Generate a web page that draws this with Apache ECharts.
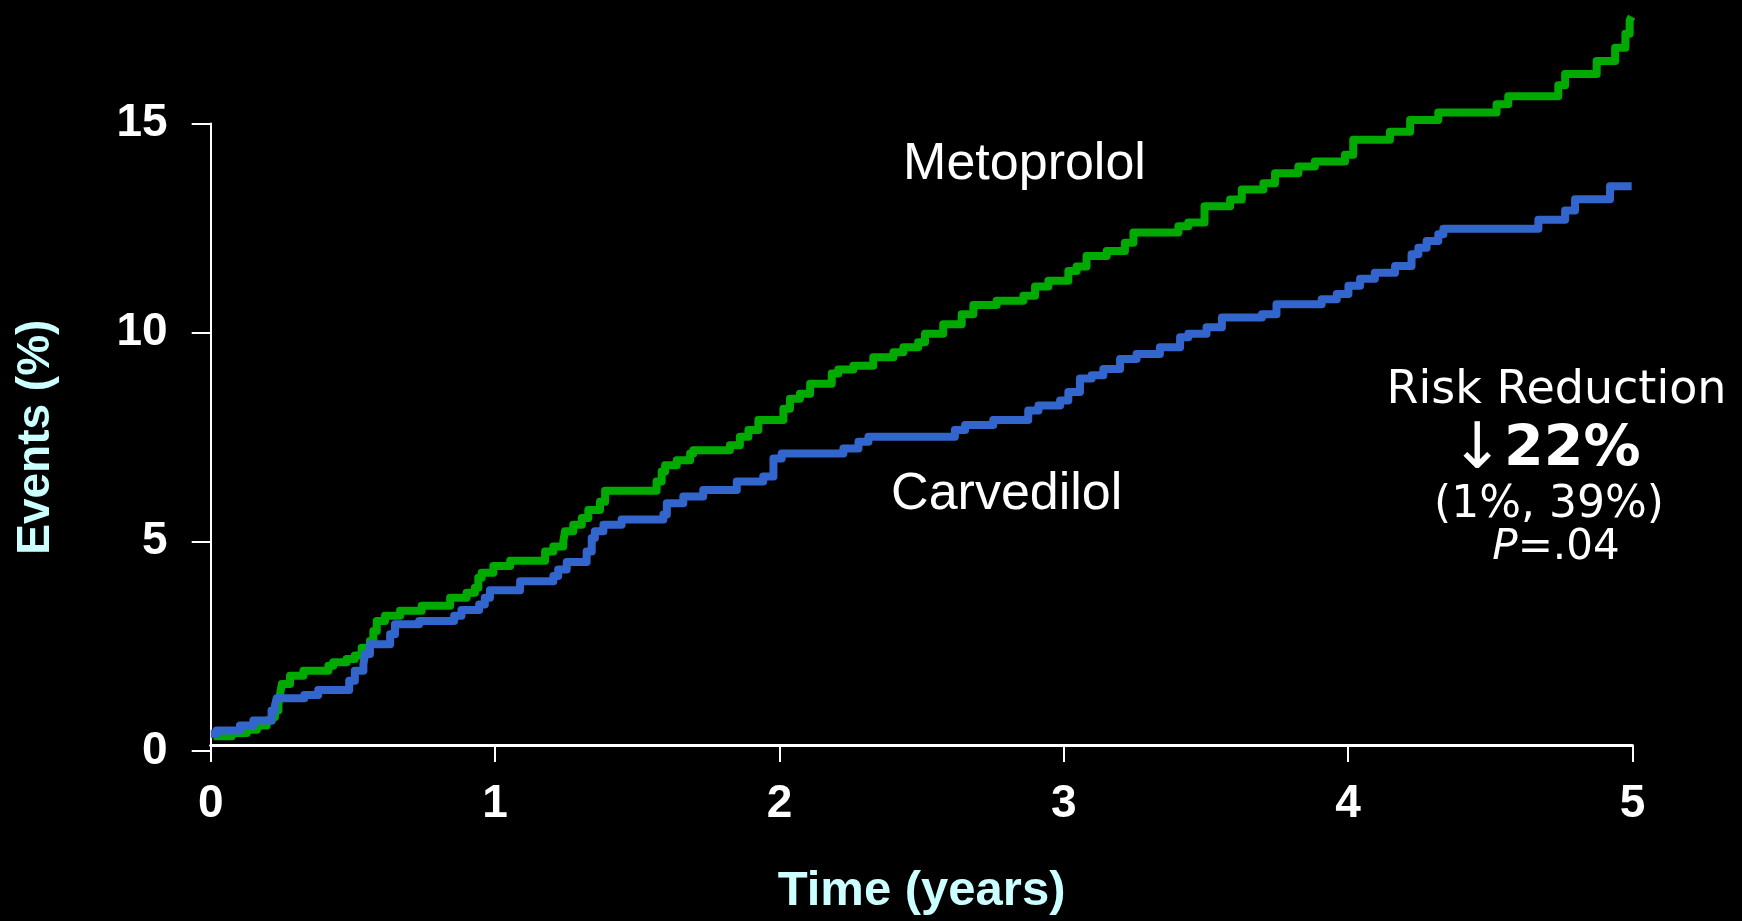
<!DOCTYPE html>
<html>
<head>
<meta charset="utf-8">
<script src="https://cdn.jsdelivr.net/npm/echarts@6/dist/echarts.min.js"></script>
<style>
html,body{margin:0;padding:0;background:#000;}
#chart{width:1742px;height:921px;}
</style>
</head>
<body>
<div id="chart"></div>
<script>
// Time (years) and cumulative events (%) at each step
const metoprololSteps = [
[0.01,0.35],[0.074,0.43],[0.127,0.51],[0.162,0.61],[0.197,0.73],[0.215,0.81],[0.226,0.97],[0.238,1.13],[0.244,1.36],[0.250,1.60],
[0.279,1.80],[0.326,1.92],[0.414,2.04],[0.431,2.12],[0.478,2.20],[0.507,2.28],[0.531,2.47],[0.560,2.63],[0.572,2.87],[0.584,3.11],
[0.613,3.23],[0.666,3.35],[0.742,3.47],[0.842,3.66],[0.900,3.78],[0.929,3.90],[0.941,4.14],[0.953,4.26],[0.994,4.42],[1.053,4.55],
[1.176,4.77],[1.205,4.89],[1.240,5.01],[1.246,5.25],[1.275,5.41],[1.305,5.57],[1.328,5.76],[1.369,5.96],[1.387,6.22],[1.568,6.44],
[1.586,6.68],[1.598,6.83],[1.639,6.95],[1.686,7.11],[1.697,7.19],[1.826,7.31],[1.861,7.51],[1.891,7.67],[1.926,7.91],[2.014,8.18],
[2.037,8.42],[2.072,8.54],[2.108,8.78],[2.184,9.02],[2.207,9.12],[2.260,9.21],[2.330,9.41],[2.401,9.53],[2.436,9.65],[2.488,9.77],
[2.512,9.97],[2.576,10.20],[2.641,10.44],[2.682,10.66],[2.764,10.76],[2.858,10.88],[2.899,11.10],[2.946,11.24],[3.016,11.47],[3.045,11.58],
[3.080,11.83],[3.151,11.95],[3.215,12.15],[3.245,12.39],[3.403,12.54],[3.438,12.63],[3.495,13.02],[3.585,13.18],[3.626,13.42],[3.702,13.57],
[3.743,13.81],[3.825,13.97],[3.883,14.09],[3.989,14.25],[4.018,14.61],[4.147,14.80],[4.218,15.08],[4.317,15.26],[4.522,15.46],[4.563,15.65],
[4.739,15.91],[4.763,16.18],[4.874,16.49],[4.939,16.81],[4.975,17.14],[4.990,17.46],[4.997,17.55]
];
const carvedilolSteps = [
[0,0.41],[0.021,0.49],[0.103,0.61],[0.150,0.73],[0.214,0.97],[0.226,1.09],[0.232,1.26],[0.329,1.34],[0.378,1.46],[0.487,1.68],
[0.507,1.92],[0.537,2.08],[0.543,2.32],[0.560,2.55],[0.631,2.79],[0.648,3.03],[0.733,3.11],[0.856,3.23],[0.882,3.37],[0.944,3.50],
[0.964,3.66],[0.982,3.84],[1.088,4.06],[1.205,4.18],[1.222,4.34],[1.252,4.52],[1.322,4.77],[1.340,5.09],[1.351,5.25],[1.381,5.41],
[1.445,5.53],[1.592,5.65],[1.604,5.92],[1.662,6.08],[1.732,6.24],[1.850,6.44],[1.943,6.56],[1.979,6.99],[2.008,7.11],[2.225,7.23],
[2.278,7.39],[2.313,7.51],[2.617,7.67],[2.653,7.79],[2.752,7.91],[2.875,8.14],[2.911,8.26],[2.987,8.38],[3.016,8.58],[3.057,8.90],
[3.098,8.98],[3.139,9.13],[3.198,9.37],[3.256,9.49],[3.338,9.65],[3.409,9.89],[3.438,9.97],[3.502,10.13],[3.556,10.36],[3.697,10.44],
[3.748,10.68],[3.907,10.80],[3.960,10.92],[4.001,11.12],[4.042,11.29],[4.094,11.43],[4.165,11.59],[4.223,11.87],[4.247,12.03],[4.276,12.19],
[4.317,12.35],[4.335,12.48],[4.669,12.70],[4.763,12.92],[4.798,13.19],[4.921,13.50],[4.997,13.50]
];
const seriesNames = ['Metoprolol', 'Carvedilol'];
const xTicks = [0, 1, 2, 3, 4, 5];
const yTicks = [0, 5, 10, 15];
const xTitle = 'Time (years)';
const yTitle = 'Events (%)';
const riskLines = ['Risk Reduction', '↓', '22%', '(1%, 39%)', 'P', '=.04'];

const sans = "'Liberation Sans', Arial, sans-serif";
const verd = "'DejaVu Sans', Verdana, sans-serif";

const chart = echarts.init(document.getElementById('chart'), null, {renderer: 'canvas'});
chart.setOption({
  backgroundColor: '#000000',
  animation: false,
  grid: {left: 210.7, right: 109.5, top: 123.4, bottom: 167},
  xAxis: {
    type: 'value', min: xTicks[0], max: xTicks[xTicks.length - 1], interval: 1,
    offset: -6,
    axisLine: {show: true, lineStyle: {color: '#ffffff', width: 3}},
    axisTick: {show: true, inside: false, length: 17, lineStyle: {color: '#ffffff', width: 2}},
    splitLine: {show: false},
    axisLabel: {color: '#ffffff', fontFamily: sans, fontWeight: 'bold', fontSize: 46, margin: 36},
    name: xTitle, nameLocation: 'middle', nameGap: 122,
    nameTextStyle: {color: '#ccffff', fontFamily: sans, fontWeight: 'bold', fontSize: 49}
  },
  yAxis: {
    type: 'value', min: yTicks[0], max: yTicks[yTicks.length - 1], interval: 5,
    offset: 5,
    axisLine: {show: true, lineStyle: {color: '#ffffff', width: 2}},
    axisTick: {show: true, inside: false, length: 19, lineStyle: {color: '#ffffff', width: 2}},
    splitLine: {show: false},
    axisLabel: {color: '#ffffff', fontFamily: sans, fontWeight: 'bold', fontSize: 46, margin: 38},
    name: yTitle, nameLocation: 'middle', nameGap: 146, nameRotate: 90,
    nameTextStyle: {color: '#ccffff', fontFamily: sans, fontWeight: 'bold', fontSize: 46}
  },
  series: [
    {
      name: seriesNames[0], type: 'line', step: 'end', data: metoprololSteps,
      showSymbol: false, clip: false, z: 2,
      lineStyle: {color: '#00aa00', width: 8, join: 'round'}
    },
    {
      name: seriesNames[1], type: 'line', step: 'end', data: carvedilolSteps,
      showSymbol: false, clip: false, z: 3,
      lineStyle: {color: '#3366cc', width: 8, join: 'round'}
    }
  ],
  graphic: [
    {type: 'text', z: 10, style: {text: seriesNames[0], x: 1024.5, y: 164.5, fill: '#ffffff',
      font: '52px ' + sans, textAlign: 'center', textVerticalAlign: 'middle'}},
    {type: 'text', z: 10, style: {text: seriesNames[1], x: 1006.7, y: 494.5, fill: '#ffffff',
      font: '52px ' + sans, textAlign: 'center', textVerticalAlign: 'middle'}},
    {type: 'text', z: 10, style: {text: riskLines[0], x: 1556.5, y: 391, fill: '#ffffff',
      font: '46px ' + verd, textAlign: 'center', textVerticalAlign: 'middle'}},
    {type: 'text', z: 10, style: {text: '{a|' + riskLines[1] + '}{b|' + riskLines[2] + '}', x: 1545.5, y: 451, fill: '#ffffff',
      textAlign: 'center', textVerticalAlign: 'middle',
      rich: {
        a: {fontFamily: verd, fontSize: 64, fill: '#ffffff', color: '#ffffff'},
        b: {fontFamily: verd, fontSize: 57, fontWeight: 'bold', fill: '#ffffff', color: '#ffffff'}
      }}},
    {type: 'text', z: 10, style: {text: riskLines[3], x: 1549, y: 506, fill: '#ffffff',
      font: '44px ' + verd, textAlign: 'center', textVerticalAlign: 'middle'}},
    {type: 'text', z: 10, style: {text: '{i|' + riskLines[4] + '}{r|' + riskLines[5] + '}', x: 1556, y: 548, fill: '#ffffff',
      textAlign: 'center', textVerticalAlign: 'middle',
      rich: {
        i: {fontFamily: verd, fontSize: 42, fontStyle: 'italic', fill: '#ffffff', color: '#ffffff'},
        r: {fontFamily: verd, fontSize: 42, fill: '#ffffff', color: '#ffffff'}
      }}}
  ]
});
</script>
</body>
</html>
